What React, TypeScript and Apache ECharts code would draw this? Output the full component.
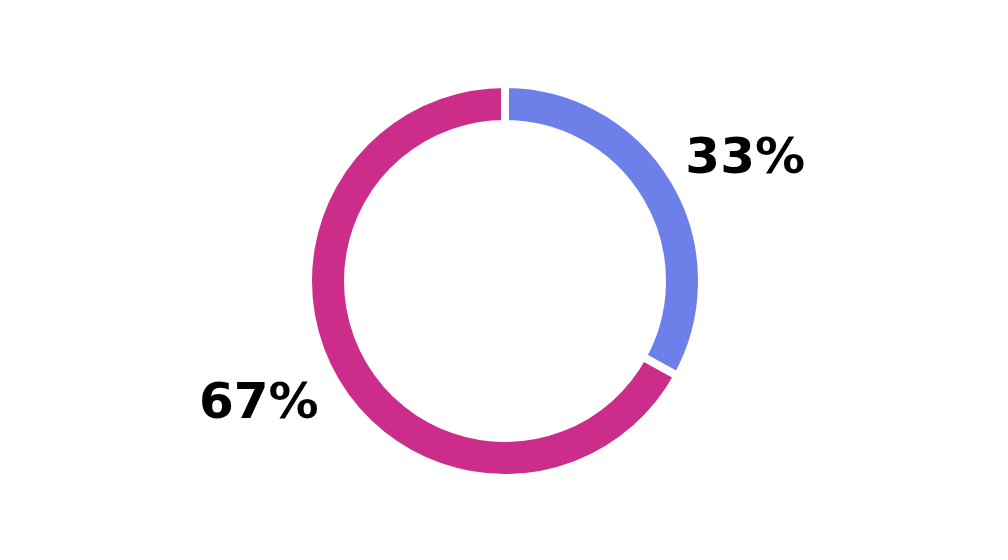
import React, { useEffect, useRef } from "react";
import * as echarts from "echarts";

const categories = ["A", "B"];
const values = [33, 67];
const colors = ["#6D7FE9", "#CD2D8A"];
const labelTexts = ["33%", "67%"];

export default function App() {
  const ref = useRef<HTMLDivElement>(null);
  useEffect(() => {
    document.body.style.margin = "0";
    const chart = echarts.init(ref.current!, null, { renderer: "svg" });
    chart.setOption({
      animation: false,
      backgroundColor: "#ffffff",
      series: [
        {
          type: "pie",
          center: [505, 281],
          radius: [157, 197],
          startAngle: 90,
          clockwise: true,
          avoidLabelOverlap: false,
          itemStyle: { borderColor: "#ffffff", borderWidth: 8 },
          label: {
            show: true,
            position: "outside",
            formatter: (p: any) => labelTexts[p.dataIndex],
            fontFamily: "DejaVu Sans",
            fontWeight: "bold",
            fontSize: 50,
            color: "#000000",
            distanceToLabelLine: 0,
          },
          labelLine: { show: false, length: 23, length2: 0 },
          labelLayout: (p: any) =>
            p.dataIndex === 0 ? { dx: -9, dy: -13 } : { dx: 3, dy: 8 },
          data: categories.map((c, i) => ({
            name: c,
            value: values[i],
            itemStyle: { color: colors[i] },
          })),
        },
      ],
    });
    return () => chart.dispose();
  }, []);
  return <div ref={ref} style={{ width: 1008, height: 560 }} />;
}
